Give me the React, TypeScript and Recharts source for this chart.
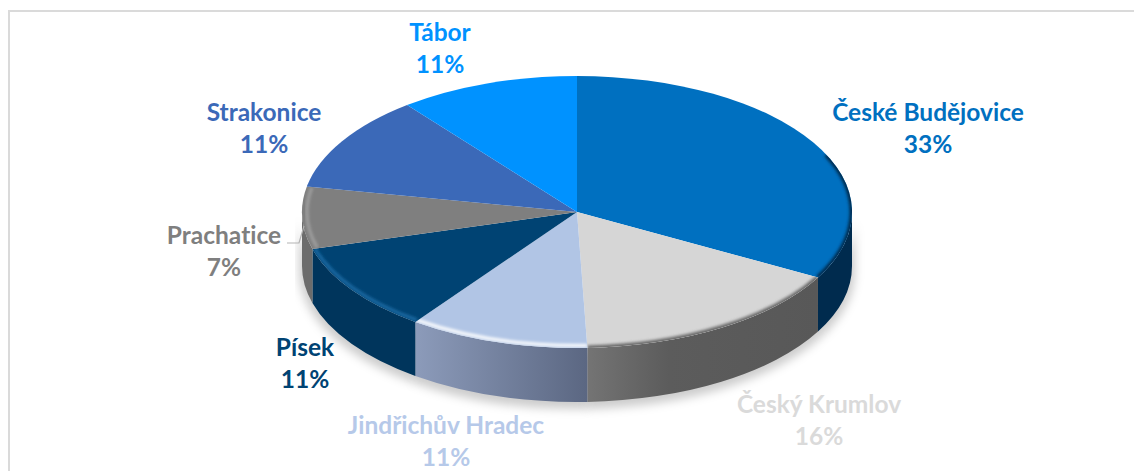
import { Pie, PieChart } from "recharts";

const districts = ["České Budějovice", "Český Krumlov", "Jindřichův Hradec", "Písek", "Prachatice", "Strakonice", "Tábor"];
const shares = [33, 16.4, 10.6, 10.6, 7.4, 11.4, 10.6];

const topColors = ["#0070C0", "#D6D6D6", "#B1C5E5", "#004373", "#7F7F7F", "#3B69B8", "#0092FF"];
const wallColors = ["#002B4E", "url(#wallKrumlov)", "url(#wallHradec)", "#00355C", "#6C6C6C", "#2A4A84", "#0068B8"];
const rimColors = ["#002B4E", "#666666", "#FFFFFF", "#1B6CA6", "#A0A0A0", "#3B69B8", "#0092FF"];
const rimInsets = [0, 0, 2.5, 2.5, 5, 0, 0];
const labelColors = ["#0070C0", "#DADADA", "#B6C9E9", "#004373", "#7F7F7F", "#3B69B8", "#0092FF"];

// label centres, [x, baseline of first line]
const labelSpots = [
  [928, 121],
  [819, 413],
  [446, 434],
  [305, 356],
  [224, 244],
  [264, 121],
  [440, 41]
];

const WIDTH = 1134;
const HEIGHT = 471;
const CX = 577;
const CY = 212;
const RX = 275;
const SQUASH = 136 / 275;
const DEPTH = 54;

const chartData = districts.map((name, i) => ({ name, value: shares[i], fill: topColors[i] }));

const point = (cx: number, cy: number, rx: number, ry: number, deg: number) => {
  const a = (deg * Math.PI) / 180;
  return [cx + rx * Math.cos(a), cy - ry * Math.sin(a)];
};

// elliptical arc going clockwise on screen from angle a to angle b (a > b)
const arcTo = (cx: number, cy: number, rx: number, ry: number, a: number, b: number) => {
  const [x, y] = point(cx, cy, rx, ry, b);
  return `A ${rx} ${ry} 0 ${a - b > 180 ? 1 : 0} 1 ${x} ${y}`;
};

const wallPath = (cx: number, cy: number, rx: number, ry: number, hi: number, lo: number) => {
  const [x1, y1] = point(cx, cy, rx, ry, hi);
  const [x2, y2] = point(cx, cy, rx, ry, lo);
  return (
    `M ${x1} ${y1} ${arcTo(cx, cy, rx, ry, hi, lo)} L ${x2} ${y2 + DEPTH} ` +
    `A ${rx} ${ry} 0 0 0 ${x1} ${y1 + DEPTH} Z`
  );
};

function ShadowSlice(props: any) {
  const { cx, cy, outerRadius, startAngle, endAngle } = props;
  const hi = Math.min(startAngle, 0);
  const lo = Math.max(endAngle, -180);
  if (lo >= hi) return null;
  const ry = outerRadius * SQUASH;
  return (
    <path
      d={wallPath(cx, cy + 5, outerRadius + 3, ry + 2, hi, lo)}
      fill="#000"
      fillOpacity={0.2}
      stroke="none"
      filter="url(#softShadow)"
    />
  );
}

function Slice(props: any) {
  const { cx, cy, outerRadius, startAngle, endAngle, fill, index, name } = props;
  const i = index ?? districts.indexOf(name);
  const ry = outerRadius * SQUASH;
  const [sx, sy] = point(cx, cy, outerRadius, ry, startAngle);
  const top = `M ${cx} ${cy} L ${sx} ${sy} ${arcTo(cx, cy, outerRadius, ry, startAngle, endAngle)} Z`;

  const wallHi = Math.min(startAngle, 0);
  const wallLo = Math.max(endAngle, -180);
  const rimHi = Math.min(startAngle, 25);
  const rimLo = Math.max(endAngle, -192);
  const inset = rimInsets[i];
  const [rx0, ry0] = point(cx, cy, outerRadius - inset, ry - inset, rimHi);

  return (
    <g>
      {wallLo < wallHi && <path d={wallPath(cx, cy, outerRadius, ry, wallHi, wallLo)} fill={wallColors[i]} />}
      <clipPath id={`sliceClip${i}`}>
        <path d={top} />
      </clipPath>
      <path d={top} fill={fill} />
      {rimLo < rimHi && (
        <g clipPath={`url(#sliceClip${i})`}>
          <path
            d={`M ${rx0} ${ry0} ${arcTo(cx, cy, outerRadius - inset, ry - inset, rimHi, rimLo)}`}
            fill="none"
            stroke={rimColors[i]}
            strokeWidth={inset ? 3 : 5}
            filter="url(#rimBlur)"
          />
        </g>
      )}
    </g>
  );
}

function renderLabel(props: any) {
  const { index, name, percent } = props;
  const [x, y] = labelSpots[index];
  return (
    <g key={name}>
      {name === "Prachatice" && (
        <polyline points="287,243 299,243 304,226" fill="none" stroke="#B3B3B3" strokeWidth={1.2} />
      )}
      <text
        x={x}
        y={y}
        textAnchor="middle"
        fill={labelColors[index]}
        fontFamily="Lato, sans-serif"
        fontWeight={700}
        fontSize={24.5}
        style={{ fontVariantLigatures: "none" }}
      >
        <tspan x={x}>{name}</tspan>
        <tspan x={x} dy={32}>{`${Math.round(percent * 100)}%`}</tspan>
      </text>
    </g>
  );
}

export default function App() {
  return (
    <div style={{ position: "absolute", left: 0, top: 0, width: WIDTH, height: HEIGHT, overflow: "hidden", background: "#fff" }}>
      <div
        style={{
          position: "absolute",
          left: 8,
          top: 10,
          width: WIDTH,
          height: HEIGHT,
          borderLeft: "2px solid #DADADA",
          borderTop: "2px solid #DADADA"
        }}
      />
      <div style={{ position: "absolute", left: 0, top: 0 }}>
        <PieChart width={WIDTH} height={HEIGHT} margin={{ top: 0, right: 0, bottom: 0, left: 0 }}>
          <defs>
            <linearGradient id="wallKrumlov" x1="0" y1="0" x2="1" y2="0">
              <stop offset="0" stopColor="#747474" />
              <stop offset="0.35" stopColor="#5C5C5C" />
              <stop offset="1" stopColor="#585858" />
            </linearGradient>
            <linearGradient id="wallHradec" x1="0" y1="0" x2="1" y2="0">
              <stop offset="0" stopColor="#8C9BBA" />
              <stop offset="1" stopColor="#5B6782" />
            </linearGradient>
            <filter id="softShadow" x="-30%" y="-30%" width="160%" height="160%">
              <feGaussianBlur stdDeviation="5" />
            </filter>
            <filter id="rimBlur" x="-10%" y="-30%" width="120%" height="160%">
              <feGaussianBlur stdDeviation="1.5" />
            </filter>
          </defs>
          <Pie
            data={chartData}
            dataKey="value"
            nameKey="name"
            cx={CX}
            cy={CY}
            outerRadius={RX}
            startAngle={90}
            endAngle={-270}
            stroke="none"
            shape={ShadowSlice}
            isAnimationActive={false}
          />
          <Pie
            data={chartData}
            dataKey="value"
            nameKey="name"
            cx={CX}
            cy={CY}
            outerRadius={RX}
            startAngle={90}
            endAngle={-270}
            stroke="none"
            shape={Slice}
            label={renderLabel}
            labelLine={false}
            isAnimationActive={false}
          />
        </PieChart>
      </div>
    </div>
  );
}
